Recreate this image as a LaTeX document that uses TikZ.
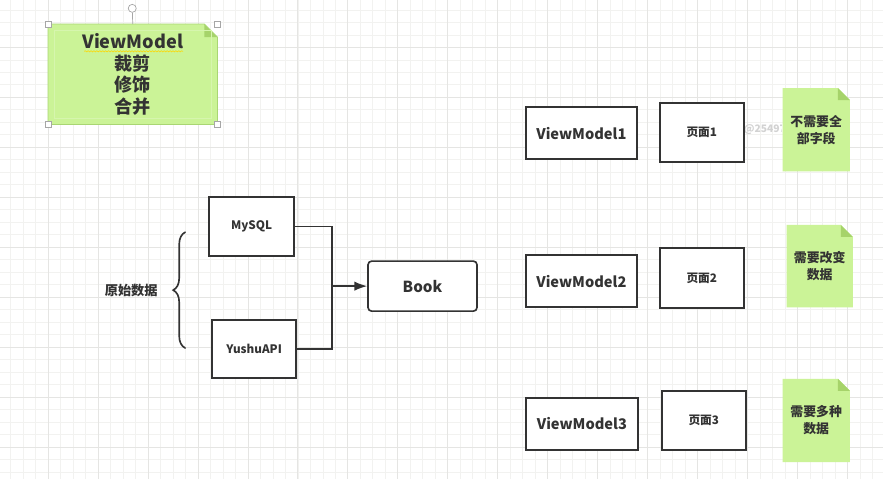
\documentclass[tikz,border=0pt]{standalone}
\usepackage{fontspec}
\setmainfont{Noto Sans CJK SC}
\usetikzlibrary{positioning, calc, decorations.pathreplacing, decorations.pathmorphing, arrows.meta}
\definecolor{xink}{HTML}{333333}
\definecolor{xnote}{HTML}{CBF397}
\definecolor{xfold}{HTML}{A6D36A}
\definecolor{xnoteline}{HTML}{A9D673}
\definecolor{xnoteinner}{HTML}{D6F5AE}
\definecolor{xgridmin}{HTML}{F2F2F0}
\definecolor{xgridmaj}{HTML}{E5E5E3}
\pgfdeclarelayer{bg}
\pgfsetlayers{bg,main}
\tikzset{
	box/.style={draw=xink, line width=1.4pt, fill=white, text=xink, inner sep=0pt},
	dims/.style 2 args={minimum width=#1*0.03cm, minimum height=#2*0.03cm},
	note/.style={text=xink, font=\bfseries\fontsize{11}{14.5}\selectfont, align=center, inner sep=0pt},
	wire/.style={draw=xink, line width=1.4pt},
	arrow/.style={wire, -{Latex[length=11pt, width=8pt]}},
	handle/.style={draw=gray!70, fill=white, line width=0.6pt, minimum size=6*0.03cm, inner sep=0pt},
}
% folded paper behind a note node
\newcommand\notepaper[2][12]{%
	\begin{pgfonlayer}{bg}
		\fill[xnote] (#2.south west) |- ($(#2.north east)+(-#1,0)$) -- ($(#2.north east)+(0,#1)$) |- cycle;
		\fill[xfold] ($(#2.north east)+(-#1,0)$) -- ($(#2.north east)+(0,#1)$) -- ($(#2.north east)+(-#1,#1)$) -- cycle;
	\end{pgfonlayer}}

\begin{document}
\begin{tikzpicture}[x=0.03cm, y=-0.03cm]
	% canvas and grid
	\begin{pgfonlayer}{bg}
		\fill[white] (0,0) rectangle (883,479);
		\foreach \x in {10.2,22.7,...,883} \draw[xgridmin, line width=0.5pt] (\x,0) -- (\x,479);
		\foreach \y in {9.5,22,...,479} \draw[xgridmin, line width=0.5pt] (0,\y) -- (883,\y);
		\foreach \x in {47.7,97.7,...,883} \draw[xgridmaj, line width=0.6pt] (\x,0) -- (\x,479);
		\foreach \y in {47,97,...,479} \draw[xgridmaj, line width=0.6pt] (0,\y) -- (883,\y);
		\begin{scope}
			\clip (0,0) rectangle (782,479);
			\node[text=gray!35, font=\bfseries\fontsize{8.8}{10}\selectfont, anchor=west] (mark) at (740,129) {@254972};
		\end{scope}
	\end{pgfonlayer}
	\useasboundingbox (0,0) rectangle (883,479);

	% ViewModel note (selected)
	\node[note, dims={169}{100}, font=\bfseries\fontsize{15.5}{18.3}\selectfont] (vmnote) at (132.5,74) {ViewModel\\裁剪\\修饰\\合并};
	\notepaper[13]{vmnote}
	\begin{pgfonlayer}{bg}
		\draw[xnoteline, line width=0.6pt] (vmnote.south west) |- ($(vmnote.north east)+(-13,0)$) -- ($(vmnote.north east)+(0,13)$) |- cycle;
		\draw[xnoteinner, line width=0.8pt] ($(vmnote.south west)+(6,-6)$) rectangle ($(vmnote.north east)+(-6,6)$);
	\end{pgfonlayer}
	\draw[decorate, decoration={snake, amplitude=0.5pt, segment length=2.5pt}, draw=yellow!75!orange, line width=0.5pt]
		($(vmnote.center)+(-48.5,-23)$) -- ($(vmnote.center)+(50.5,-23)$);
	\node[handle] (h1) at (vmnote.north west) {};
	\node[handle] (h2) at (vmnote.north east) {};
	\node[handle] (h3) at (vmnote.south west) {};
	\node[handle] (h4) at (vmnote.south east) {};
	\node[handle, circle, minimum size=8*0.03cm] (rot) at (132,8) {};
	\draw[gray!70, line width=0.6pt] (rot) -- (vmnote.north);

	% sources
	\node[box, dims={85}{59}, font=\bfseries\fontsize{10}{12}\selectfont] (mysql) at (251.5,226.5) {MySQL};
	\node[box, dims={84}{58}, font=\bfseries\fontsize{10}{12}\selectfont] (yushu) at (254,349) {YushuAPI};
	\node[box, dims={109}{50}, rounded corners=3pt, font=\bfseries\fontsize{13}{15}\selectfont] (book) at (422.5,286) {Book};
	\coordinate (join) at (332,286);
	\draw[wire] (mysql.east) -| (join);
	\draw[wire] (yushu.east) -| (join);
	\draw[arrow] (join) -- (book.west);

	\coordinate (braceB) at (185,348);
	\coordinate (braceT) at (185,232);
	\draw[wire, line cap=round, decorate, decoration={brace, amplitude=0.36cm}] (braceB) -- (braceT);
	\node[text=xink, font=\bfseries\fontsize{11.3}{13}\selectfont] (raw) at (131,290) {原始数据};

	% view models, pages and notes
	\node[box, dims={111}{52}, font=\bfseries\fontsize{12.5}{15}\selectfont] (vm1) at (581.5,133) {ViewModel1};
	\node[box, dims={84}{59}, font=\bfseries\fontsize{10}{12}\selectfont] (page1) at (702,132.5) {页面1};
	\node[note, dims={67}{83}] (n1) at (816.5,129.5) {不需要全\\部字段};
	\notepaper{n1}

	\node[box, dims={111}{52}, font=\bfseries\fontsize{12.5}{15}\selectfont] (vm2) at (581.5,281) {ViewModel2};
	\node[box, dims={84}{60}, font=\bfseries\fontsize{10}{12}\selectfont] (page2) at (702,278) {页面2};
	\node[note, dims={66}{82}] (n2) at (820,266) {需要改变\\数据};
	\notepaper{n2}

	\node[box, dims={112}{52}, font=\bfseries\fontsize{12.5}{15}\selectfont] (vm3) at (582,424) {ViewModel3};
	\node[box, dims={84}{59}, font=\bfseries\fontsize{10}{12}\selectfont] (page3) at (704,420.5) {页面3};
	\node[note, dims={67}{83}] (n3) at (816.5,420.5) {需要多种\\数据};
	\notepaper{n3}
\end{tikzpicture}
\end{document}
